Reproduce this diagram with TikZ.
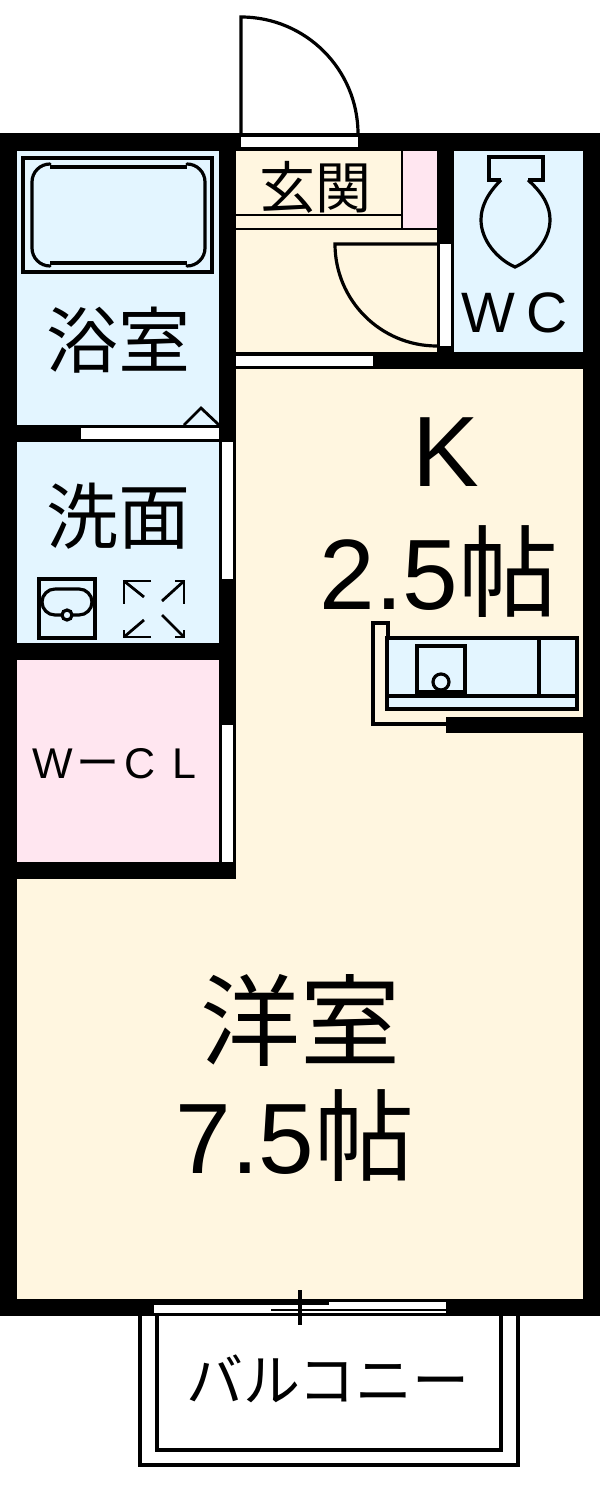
\documentclass[tikz,border=0pt]{standalone}
\usepackage{fontspec}
\setmainfont{Liberation Sans}
\newfontfamily\jpfont{Noto Sans CJK JP}
\usetikzlibrary{positioning}
\definecolor{floorcream}{HTML}{FFF6E0}
\definecolor{wetblue}{HTML}{E3F5FF}
\definecolor{closetpink}{HTML}{FFE6F0}
\newcommand{\jpsize}[2]{\fontsize{#1}{#1}\selectfont\jpfont #2}
\newcommand{\lasize}[2]{\fontsize{#1}{#1}\selectfont #2}

\begin{document}
\begin{tikzpicture}[x=1pt,y=-1pt,line join=miter]
        % Define styles for shapes
        \tikzstyle{wall} = [fill=black,draw=none]
        \tikzstyle{opening} = [fill=white,draw=none]
        \tikzstyle{fixture} = [draw=black,line width=3.2pt]
        \tikzstyle{thinline} = [draw=black,line width=2.8pt]
        \tikzstyle{label} = [inner sep=0pt,text=black]
        \useasboundingbox (0,0) rectangle (600,1485);
        \fill[white] (0,0) rectangle (600,1485);

        % Floors
        \fill[floorcream] (0,133) rectangle (600,1316);
        \fill[wetblue] (17,150) rectangle (219,425);
        \fill[wetblue] (17,442) rectangle (219,643);
        \fill[closetpink] (17,660) rectangle (219,862);
        \fill[wetblue] (454,150) rectangle (583,352);
        \fill[closetpink] (403,150) rectangle (437,229);

        % Outer walls
        \path[wall] (0,133) rectangle (600,151);
        \path[wall] (0,133) rectangle (17,1316);
        \path[wall] (583,133) rectangle (600,1316);
        \path[wall] (0,1299) rectangle (600,1316);
        % Inner walls
        \path[wall] (219,133) rectangle (236,879);
        \path[wall] (437,133) rectangle (454,369);
        \path[wall] (236,352) rectangle (600,369);
        \path[wall] (0,425) rectangle (236,442);
        \path[wall] (0,643) rectangle (236,660);
        \path[wall] (0,862) rectangle (236,879);
        \path[wall] (446,717) rectangle (600,733);

        % Openings
        \path[opening] (241,137) rectangle (358,147);
        \path[opening] (236,356) rectangle (373,366);
        \path[opening] (440,244) rectangle (451,346);
        \path[opening] (81,428) rectangle (219,439);
        \path[opening] (222,442) rectangle (233,579);
        \path[opening] (222,725) rectangle (233,862);
        \path[opening] (154,1302) rectangle (446,1313);

        % Entrance door and toilet door
        \draw[fixture] (241,135) -- (241,17) arc[start angle=-90,end angle=0,radius=117];
        \draw[fixture] (437,244) -- (335,244) arc[start angle=180,end angle=90,radius=102];
        % Entrance step
        \draw[thinline] (236,215) -- (402,215);
        \draw[thinline] (402,151) -- (402,229);
        \draw[thinline] (236,229) -- (437,229);

        % Bath
        \draw[fixture] (23,158) rectangle (212,272);
        \draw[fixture,line width=3.6pt] (50,167) -- (187,167);
        \draw[fixture,line width=3.6pt] (50,263) -- (187,263);
        \draw[fixture,line cap=round] (50,164) arc[start angle=270,end angle=180,radius=18] -- (32,248) arc[start angle=180,end angle=90,radius=18];
        \draw[fixture,line cap=round] (187,164) arc[start angle=270,end angle=360,radius=18] -- (205,248) arc[start angle=0,end angle=90,radius=18];
        \draw[thinline] (184,425) -- (201,408) -- (219,425);

        % Wash basin
        \draw[fixture] (39,579) rectangle (95,638);
        \draw[fixture] (55,589) -- (79,589) arc[start angle=-90,end angle=90,radius=13] -- (55,615) arc[start angle=90,end angle=270,radius=13];
        \draw[fixture,fill=wetblue] (67,615) circle[radius=5];

        % Washing machine pan
        \foreach \cx/\cy/\hx/\vy/\dx/\dy in {124/581/151/604/144/597,184/581/175/604/162/601,124/637/151/630/144/620,184/637/175/630/162/615} {
            \draw[thinline] (\hx,\cy) -- (\cx,\cy) -- (\cx,\vy);
            \draw[thinline] (\cx,\cy) -- (\dx,\dy);
        }

        % Toilet
        \draw[fixture] (501,180) -- (489,180) -- (489,157) -- (543,157) -- (543,180) -- (528,180);
        \draw[fixture] (501,180) .. controls (486,195) and (481,208) .. (481,220)
            .. controls (481,240) and (497,259) .. (515,267)
            .. controls (533,259) and (550,240) .. (550,220)
            .. controls (550,208) and (545,195) .. (528,180);

        % Kitchen
        \draw[fixture,fill=wetblue] (387,638) rectangle (577,709);
        \draw[fixture] (387,696) -- (577,696);
        \draw[fixture] (539,638) -- (539,696);
        \draw[fixture] (417,646) rectangle (465,692);
        \draw[fixture] (441,682) circle[radius=8];
        \draw[fixture] (388,638) -- (388,623) -- (373,623) -- (373,724) -- (446,724);

        % Balcony
        \draw[fixture] (140,1316) -- (140,1465) -- (518,1465) -- (518,1316);
        \draw[fixture] (157,1316) -- (157,1450) -- (501,1450) -- (501,1316);
        \draw[thinline] (154,1303.5) -- (329,1303.5);
        \draw[thinline] (271,1310) -- (446,1310);
        \draw[line width=3.5pt] (300,1290) -- (300,1325);

        % Labels
        \node[label] (genkan) at (315,187) {\jpsize{56}{玄関}};
        \node[label] (toilet) at (515,313) {\lasize{57}{W\hspace{0.2em}C}};
        \node[label] (bath) at (118,340) {\jpsize{72}{浴室}};
        \node[label] (wash) at (118,516) {\jpsize{72}{洗面}};
        \node[label,anchor=west] (closet) at (32,764) {\lasize{43}{W\hspace{3.3pt}{\jpfont ー}\hspace{5.75pt}C\hspace{16.5pt}L}};
        \node[label] (kitchen) at (446,452) {\lasize{100}{K}};
        \node[label] (kitchensize) at (439,572) {\lasize{100}{2.5{\jpfont 帖}}};
        \node[label] (room) at (300,1020) {\jpsize{100}{洋室}};
        \node[label] (roomsize) at (295,1136) {\lasize{100}{7.5{\jpfont 帖}}};
        \node[label] (balcony) at (328,1379) {\jpsize{57}{バルコニー}};
\end{tikzpicture}
\end{document}
